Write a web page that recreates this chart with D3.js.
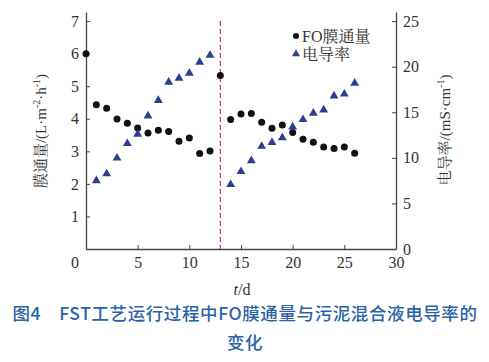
<!DOCTYPE html>
<html>
<head>
<meta charset="utf-8">
<script src="https://cdn.jsdelivr.net/npm/d3@7"></script>
<style>
  body { margin: 0; background: #fff; }
</style>
</head>
<body>
<script>
// days
const days = [0, 1, 2, 3, 4, 5, 6, 7, 8, 9, 10, 11, 12, 13,
  14, 15, 16, 17, 18, 19, 20, 21, 22, 23, 24, 25, 26];
// FO membrane flux, L/(m2 h)
const flux = [6.0, 4.43, 4.32, 3.99, 3.86, 3.72, 3.56, 3.65, 3.61, 3.31, 3.41, 2.93, 3.01, 5.33,
  3.98, 4.15, 4.16, 3.89, 3.71, 3.81, 3.58, 3.37, 3.28, 3.13, 3.09, 3.13, 2.94];
// conductivity days and values, mS/cm
const condDays = [1, 2, 3, 4, 5, 6, 7, 8, 9, 10, 11, 12,
  14, 15, 16, 17, 18, 19, 20, 21, 22, 23, 24, 25, 26];
const cond = [7.5, 8.25, 9.98, 11.57, 12.6, 14.6, 16.3, 18.3, 18.75, 19.3, 20.5, 21.25,
  7.07, 8.5, 9.7, 11.27, 11.7, 12.2, 13.4, 14.2, 14.9, 15.25, 16.8, 17.0, 18.2];
const leftTicks = [1, 2, 3, 4, 5, 6, 7];
const rightTicks = [0, 5, 10, 15, 20, 25];
const xTicks = [5, 10, 15, 20, 25, 30];
const splitDay = 13;

const serif = '"Liberation Serif", "Noto Serif CJK SC", "Noto Sans CJK SC", serif';

const width = 489, height = 362;
const margin = { top: 12, right: 93, bottom: 113, left: 86 };
const w = width - margin.left - margin.right;
const h = height - margin.top - margin.bottom;

const svg = d3.select('body').append('svg')
  .attr('width', width)
  .attr('height', height)
  .style('font-family', serif);

const g = svg.append('g')
  .attr('transform', 'translate(' + margin.left + ',' + margin.top + ')');

const x = d3.scaleLinear().domain([0, 30]).range([0, w]);
const yTopL = 7.28;
const y = d3.scaleLinear().domain([0, yTopL]).range([h, 0]);
const y2 = d3.scaleLinear().domain([0, yTopL * 25 / 7]).range([h, 0]);

const axisColor = '#444';
const textColor = '#333';

// axes (ticks point inward)
const xAxis = d3.axisBottom(x).tickValues(xTicks).tickSize(-4).tickSizeOuter(0).tickPadding(8);
const yAxis = d3.axisLeft(y).tickValues(leftTicks).tickSize(-4).tickSizeOuter(0).tickPadding(7);
const yAxis2 = d3.axisRight(y2).tickValues(rightTicks).tickSize(-4).tickSizeOuter(0).tickPadding(7);

function style(sel) {
  sel.attr('font-family', null).attr('font-size', 16);
  sel.select('.domain').attr('stroke', axisColor).attr('stroke-width', 1.3);
  sel.selectAll('.tick line').attr('stroke', axisColor);
  sel.selectAll('.tick text').attr('fill', textColor).style('font-family', serif);
}

g.append('g').attr('transform', 'translate(0,' + h + ')').call(xAxis).call(style);
g.append('g').call(yAxis).call(style);
g.append('g').attr('transform', 'translate(' + w + ',0)').call(yAxis2).call(style);

// shared zero at the corner
g.append('text')
  .attr('x', -7).attr('y', h + 8)
  .attr('dy', '0.71em')
  .attr('text-anchor', 'end')
  .attr('fill', textColor)
  .attr('font-size', 16)
  .text('0');

// split line
g.append('line')
  .attr('x1', x(splitDay)).attr('x2', x(splitDay))
  .attr('y1', y(7)).attr('y2', h)
  .attr('stroke', '#d8323a')
  .attr('stroke-width', 1.2)
  .attr('stroke-dasharray', '5,3');

// flux points
g.selectAll('.flux').data(days).enter().append('circle')
  .attr('class', 'flux')
  .attr('cx', d => x(d))
  .attr('cy', (d, i) => y(flux[i]))
  .attr('r', 3.5)
  .attr('fill', '#111');

// conductivity points
const tri = d3.symbol().type(d3.symbolTriangle).size(34);
g.selectAll('.cond').data(condDays).enter().append('path')
  .attr('class', 'cond')
  .attr('d', tri)
  .attr('transform', (d, i) => 'translate(' + x(d) + ',' + y2(cond[i]) + ')')
  .attr('fill', '#2c3f8e');

// legend
const legend = g.append('g').attr('transform', 'translate(' + (296 - margin.left) + ',' + (36 - margin.top) + ')');
legend.append('circle').attr('cx', 0).attr('cy', 0).attr('r', 3).attr('fill', '#111');
legend.append('text').attr('x', 6).attr('y', 0).attr('dy', '0.35em')
  .attr('fill', textColor).attr('font-size', 16).text('FO膜通量');
legend.append('path').attr('d', d3.symbol().type(d3.symbolTriangle).size(28))
  .attr('transform', 'translate(0,18)').attr('fill', '#2c3f8e');
legend.append('text').attr('x', 6).attr('y', 18).attr('dy', '0.35em')
  .attr('fill', textColor).attr('font-size', 16).text('电导率');

// axis titles
const xt = svg.append('text')
  .attr('x', 242).attr('y', 295)
  .attr('text-anchor', 'middle')
  .attr('fill', textColor)
  .attr('font-size', 16);
xt.append('tspan').attr('font-style', 'italic').text('t');
xt.append('tspan').text('/d');

function yTitle(cx, cy, main, parts) {
  const t = svg.append('text')
    .attr('transform', 'translate(' + cx + ',' + cy + ') rotate(-90)')
    .attr('text-anchor', 'middle')
    .attr('fill', textColor)
    .attr('font-size', 15);
  t.append('tspan').text(main);
  parts.forEach(p => {
    const s = t.append('tspan').text(p[0]);
    if (p[1]) s.attr('dy', p[1]);
    if (p[2]) s.attr('font-size', 10);
  });
}
yTitle(46, 131, '膜通量/(L·m', [['-2', '-6', 1], ['·h', '6'], ['-1', '-6', 1], [')', '6']]);
yTitle(450, 130, '电导率/(mS·cm', [['-1', '-6', 1], [')', '6']]);

// caption
const cap = svg.append('g')
  .attr('fill', '#2a63a6')
  .style('font-family', '"Noto Sans CJK SC", sans-serif')
  .attr('font-weight', 500)
  .attr('font-size', 17.5);
cap.append('text').attr('x', 245).attr('y', 320).attr('text-anchor', 'middle')
  .attr('letter-spacing', 0.6)
  .text('图4\u3000FST工艺运行过程中FO膜通量与污泥混合液电导率的');
cap.append('text').attr('x', 245).attr('y', 349).attr('text-anchor', 'middle')
  .attr('letter-spacing', 0.6)
  .text('变化');
</script>
</body>
</html>
